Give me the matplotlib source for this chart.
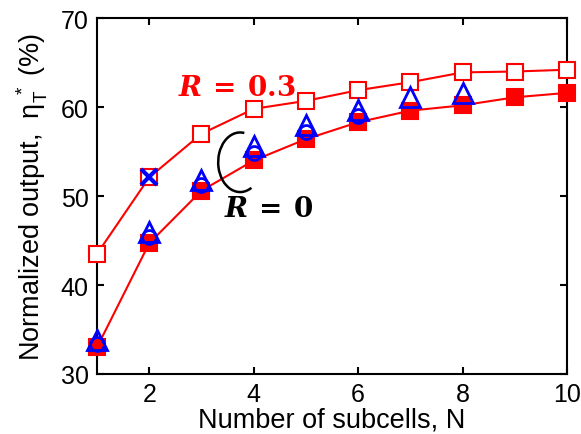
import matplotlib
matplotlib.use("Agg")
import matplotlib.pyplot as plt
from matplotlib.patches import Arc

# Number of subcells
n_cells = [1, 2, 3, 4, 5, 6, 7, 8, 9, 10]

# Normalized output (%) for R = 0.3 (open squares) and R = 0 (filled squares)
eta_r03 = [43.5, 52.1, 57.0, 59.8, 60.7, 61.9, 62.8, 63.9, 64.0, 64.2]
eta_r0 = [33.0, 44.7, 50.6, 54.0, 56.4, 58.3, 59.6, 60.2, 61.1, 61.6]

# Comparison points for R = 0
tri_n = [1, 2, 3, 4, 5, 6, 7, 8]
tri_eta = [33.8, 46.0, 51.8, 55.6, 58.0, 59.7, 61.1, 61.6]
circ_n = [1, 2, 3, 4, 5, 6]
circ_eta = [33.4, 45.4, 51.2, 54.8, 57.2, 59.0]

# Comparison point for R = 0.3
cross_n = [2]
cross_eta = [52.1]

x_ticks = [2, 4, 6, 8, 10]
y_ticks = [30, 40, 50, 60, 70]

plt.rcParams["font.family"] = ["Liberation Sans", "DejaVu Sans"]
plt.rcParams["mathtext.fontset"] = "custom"
plt.rcParams["mathtext.rm"] = "Liberation Sans"
plt.rcParams["mathtext.it"] = "Liberation Sans:italic"

fig = plt.figure(figsize=(5.81, 4.35), dpi=100)
ax = fig.add_axes([0.167, 0.138, 0.809, 0.818])

red = "#ff0000"
blue = "#0000ff"

ax.plot(n_cells, eta_r03, color=red, lw=1.5, marker="s", ms=12,
        mfc="white", mec=red, mew=1.5, zorder=3, clip_on=False)
ax.plot(n_cells, eta_r0, color=red, lw=1.5, marker="s", ms=12,
        mfc=red, mec=red, mew=1.5, zorder=3, clip_on=False)
ax.plot(circ_n, circ_eta, ls="none", marker="o", ms=10,
        mfc="none", mec=blue, mew=2, zorder=4, clip_on=False)
ax.plot(tri_n, tri_eta, ls="none", marker="^", ms=15,
        mfc="none", mec=blue, mew=2, zorder=5, clip_on=False)
ax.plot(cross_n, cross_eta, ls="none", marker="x", ms=12,
        mec=blue, mew=3, zorder=5, clip_on=False)

# Series annotations
ax.text(3.68, 62.2, r"$\mathbfit{R}\:\mathbf{=}\:\mathbf{0.3}$", color=red,
        fontsize=20, ha="center", va="center",
        math_fontfamily="dejavuserif")
ax.text(4.28, 48.6, r"$\mathbfit{R}\:\mathbf{=}\:\mathbf{0}$", color="black",
        fontsize=20, ha="center", va="center",
        math_fontfamily="dejavuserif")
# Bracket grouping the R = 0 data (angles are polar angles in data units)
ax.add_patch(Arc((3.74, 53.8), 0.84, 6.7, theta1=88.6, theta2=274.3,
                 color="black", lw=1.8, zorder=6))

ax.set_xlim(1, 10)
ax.set_ylim(30, 70)
ax.set_xticks(x_ticks)
ax.set_yticks(y_ticks)
ax.tick_params(direction="in", length=5, width=1.5, labelsize=18,
               top=True, right=True, pad=6)
for sp in ax.spines.values():
    sp.set_linewidth(1.5)

ax.set_xlabel("Number of subcells, N", fontsize=19.5, labelpad=0)
ax.set_ylabel(r"Normalized output,  $\mathrm{\eta}_\mathrm{T}^{\ *}$ (%)",
              fontsize=19.5, labelpad=8)

fig.savefig("out.png", dpi=100)
